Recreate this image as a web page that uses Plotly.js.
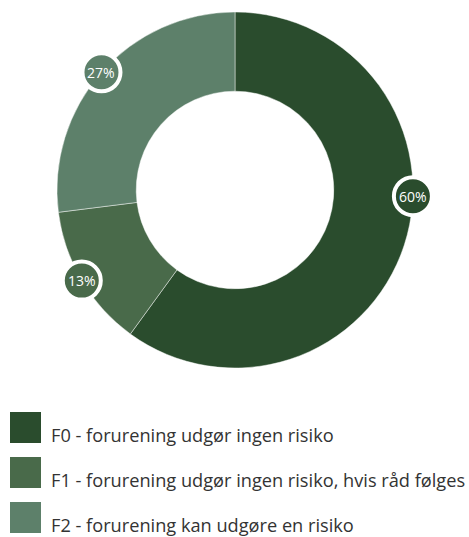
<!DOCTYPE html>
<html>
<head>
<meta charset="utf-8">
<script src="https://cdn.plot.ly/plotly-3.0.1.min.js"></script>
<style>
  html, body { margin: 0; padding: 0; background: #fff; }
  #chart { width: 469px; height: 537px; }
</style>
</head>
<body>
<div id="chart"></div>
<script>
// ---- data ----
const categories = [
  "F0 - forurening udgør ingen risiko",
  "F1 - forurening udgør ingen risiko, hvis råd følges",
  "F2 - forurening kan udgøre en risiko"
];
const values = [60, 13, 27];
const valueLabels = ["60%", "13%", "27%"];
const colors = ["#2a4c2d", "#496a4a", "#5d806a"];

// ---- layout constants ----
const W = 469, H = 537;
const CX = 235, CY = 190, R = 178;
const HOLE = 0.555;
const FONT = "'Open Sans', Roboto, sans-serif";

const px2x = p => p / W;
const py2y = p => 1 - p / H;

const total = values.reduce((a, b) => a + b, 0);

const shapes = [];
const annotations = [];

// value label badges on the outer edge of each slice
let start = 0;
values.forEach((v, i) => {
  const span = v / total * 360;
  let ang = start + span / 2;
  // large slices: badge pinned near 3 o'clock
  if (span > 180) ang = start + 92;
  start += span;
  const rad = ang * Math.PI / 180;
  const bx = CX + R * Math.sin(rad);
  const by = CY - R * Math.cos(rad);
  shapes.push({
    type: "circle", xref: "paper", yref: "paper",
    xsizemode: "pixel", ysizemode: "pixel",
    xanchor: px2x(bx), yanchor: py2y(by),
    x0: -19, x1: 19, y0: -19, y1: 19,
    fillcolor: colors[i],
    line: { color: "#ffffff", width: 4 },
    layer: "above"
  });
  annotations.push({
    xref: "paper", yref: "paper",
    x: px2x(bx), y: py2y(by),
    xanchor: "center", yanchor: "middle",
    text: valueLabels[i], showarrow: false,
    font: { family: FONT, size: 14, color: "#ffffff" }
  });
});

// custom legend
const LEG_X = 10, LEG_SIZE = 31, LEG_TOP = 412, LEG_STEP = 45;
categories.forEach((c, i) => {
  const top = LEG_TOP + i * LEG_STEP;
  shapes.push({
    type: "rect", xref: "paper", yref: "paper",
    x0: px2x(LEG_X), x1: px2x(LEG_X + LEG_SIZE),
    y0: py2y(top + LEG_SIZE), y1: py2y(top),
    fillcolor: colors[i], line: { width: 0 }
  });
  annotations.push({
    xref: "paper", yref: "paper",
    x: px2x(49), y: py2y(top + 23),
    xanchor: "left", yanchor: "middle",
    text: c, showarrow: false,
    font: { family: FONT, size: 18.2, color: "#333333" }
  });
});

const trace = {
  type: "pie",
  labels: categories,
  values: values,
  sort: false,
  direction: "clockwise",
  rotation: 0,
  hole: HOLE,
  textinfo: "none",
  hoverinfo: "label+percent",
  marker: { colors: colors, line: { color: "rgba(255,255,255,0.45)", width: 1 } },
  domain: {
    x: [px2x(CX - R), px2x(CX + R)],
    y: [py2y(CY + R), py2y(CY - R)]
  },
  showlegend: false
};

const layout = {
  width: W, height: H,
  margin: { l: 0, r: 0, t: 0, b: 0 },
  paper_bgcolor: "#ffffff",
  plot_bgcolor: "#ffffff",
  showlegend: false,
  shapes: shapes,
  annotations: annotations,
  font: { family: FONT }
};

Plotly.newPlot("chart", [trace], layout, { displayModeBar: false, staticPlot: true });
</script>
</body>
</html>
